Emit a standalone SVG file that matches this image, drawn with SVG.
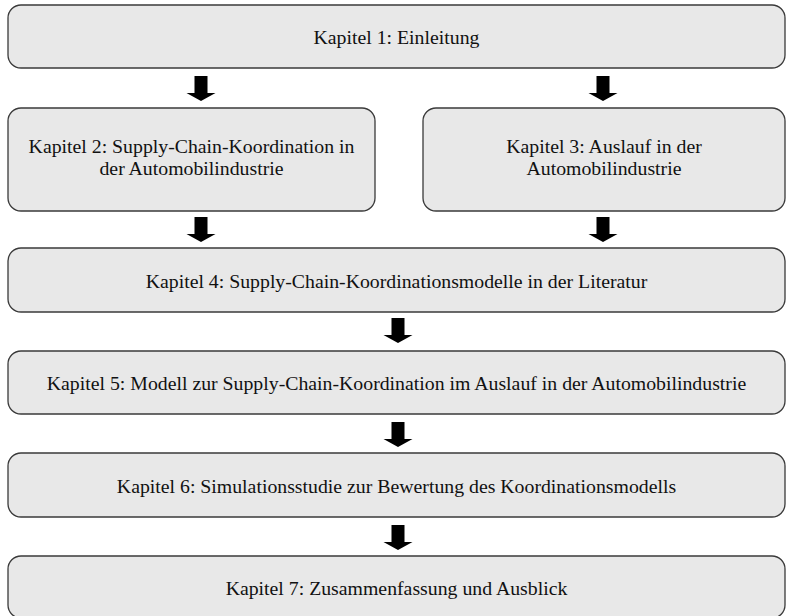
<svg xmlns="http://www.w3.org/2000/svg" width="786" height="616" viewBox="0 0 786 616">
<defs>
<style>
.box{fill:#e8e8e8;stroke:#3a3a3a;stroke-width:1.3}
.t{font-family:"Liberation Serif","Times New Roman",serif;font-size:19.8px;fill:#111;text-anchor:middle}
.arr{fill:#000}
</style>
<path id="a" class="arr" d="M-6.5,0 H6.5 V17 H14.5 L0,25 L-14.5,17 H-6.5 Z"/>
</defs>
<rect width="786" height="616" fill="#fff"/>
<g id="n1"><rect class="box" x="8" y="5" width="777" height="63" rx="13"/><text class="t" x="396.5" y="44">Kapitel 1: Einleitung</text></g>
<g id="n2"><rect class="box" x="8" y="108" width="367" height="103" rx="13"/><text class="t" x="191.5" y="153">Kapitel 2: Supply-Chain-Koordination in</text><text class="t" x="191.5" y="174.5">der Automobilindustrie</text></g>
<g id="n3"><rect class="box" x="423" y="108" width="362" height="103" rx="13"/><text class="t" x="604" y="153">Kapitel 3: Auslauf in der</text><text class="t" x="604" y="174.5">Automobilindustrie</text></g>
<g id="n4"><rect class="box" x="8" y="248" width="777" height="64" rx="13"/><text class="t" x="396.5" y="288">Kapitel 4: Supply-Chain-Koordinationsmodelle in der Literatur</text></g>
<g id="n5"><rect class="box" x="8" y="351" width="777" height="63" rx="13"/><text class="t" x="396.5" y="390">Kapitel 5: Modell zur Supply-Chain-Koordination im Auslauf in der Automobilindustrie</text></g>
<g id="n6"><rect class="box" x="8" y="453" width="777" height="64" rx="13"/><text class="t" x="396.5" y="493">Kapitel 6: Simulationsstudie zur Bewertung des Koordinationsmodells</text></g>
<g id="n7"><rect class="box" x="8" y="556" width="777" height="62" rx="13"/><text class="t" x="396.5" y="595">Kapitel 7: Zusammenfassung und Ausblick</text></g>
<g id="connectors">
<use href="#a" x="201" y="76"/>
<use href="#a" x="603" y="76"/>
<use href="#a" x="201" y="217"/>
<use href="#a" x="603" y="217"/>
<use href="#a" x="398" y="318"/>
<use href="#a" x="398" y="422"/>
<use href="#a" x="398" y="525"/>
</g>
</svg>
